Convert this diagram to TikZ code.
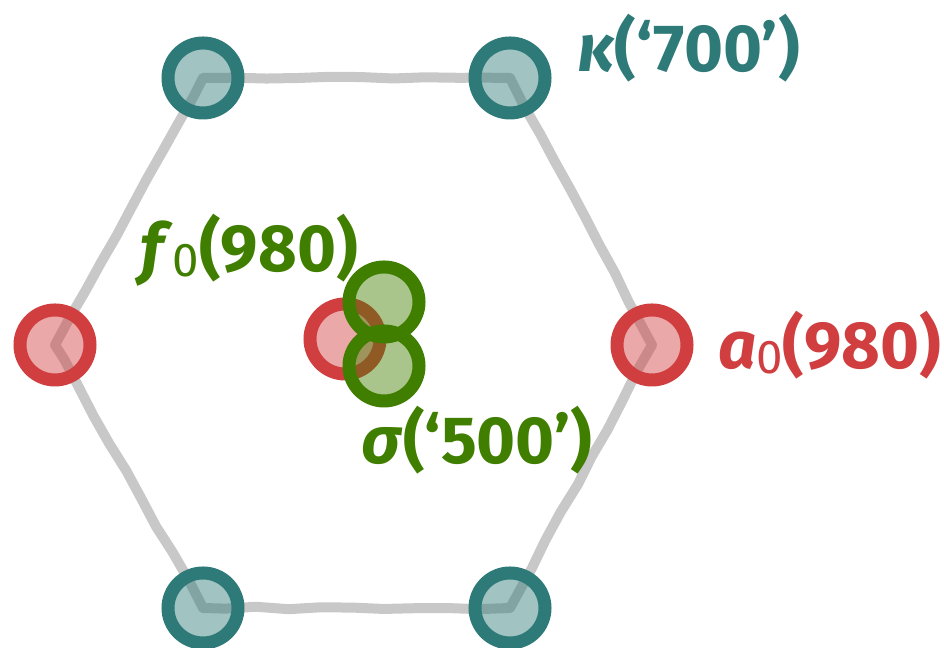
\documentclass[tikz,border=0pt]{standalone}
\usepackage{fontspec}
\setmainfont{Fira Sans}
\usetikzlibrary{positioning,backgrounds,decorations.pathmorphing}
\definecolor{kteal}{RGB}{46,122,120}
\definecolor{ared}{RGB}{208,62,64}
\definecolor{fgreen}{RGB}{64,126,0}
\definecolor{hexgray}{RGB}{200,200,200}
\newcommand{\lowidx}[1]{\raisebox{-1.5pt}{\fontsize{13.5}{13.5}\selectfont\mdseries #1}}
\tikzset{
  wobble/.style={decorate,decoration={random steps,segment length=9pt,amplitude=0.35pt}},
  meson/.style={circle,inner sep=0,minimum size=0.7cm,line width=0.13cm,draw=#1,fill=#1,fill opacity=0.45},
  lab/.style={text=#1,inner sep=0,font=\fontsize{19}{23}\selectfont\bfseries},
  edge/.style={hexgray,line width=0.1cm,line cap=round,wobble}
}

\begin{document}
\begin{tikzpicture}
\pgfmathsetseed{7}
\useasboundingbox(0,0)rectangle(9.44,6.48);
% octet around the hexagon
\node[meson=kteal](tl)at(2.03,5.70){};\node[meson=kteal](tr)at(5.10,5.70){};
\node[meson=kteal](bl)at(2.03,0.40){};\node[meson=kteal](br)at(5.10,0.40){};
\node[meson=ared](l)at(0.55,3.03){};\node[meson=ared](r)at(6.52,3.03){};
\begin{scope}[on background layer]
\foreach \a/\b in {tl/tr,tr/r,r/br,br/bl,bl/l,l/tl}
  \draw[edge](\a.center)--(\b.center);
\end{scope}
% middle: a0 with f0 and sigma on top
\node[meson=ared](c)at(3.45,3.09){};
\node[meson=fgreen](ft)at(3.84,3.46){};
\node[meson=fgreen](sb)at(3.84,2.82){};
% labels
\node[lab=kteal,anchor=west,right=0.25 of tr,yshift=3mm](kap){\textit{κ}(‘700’)};
\node[lab=ared,anchor=west,right=0.24 of r](azero){\textit{a}\lowidx{0}(980)};
\node[lab=fgreen](fzero)at(2.49,3.98){\textit{f}\lowidx{0}(980)};
\node[lab=fgreen](sig)at(4.77,2.08){\textit{σ}(‘500’)};
\end{tikzpicture}
\end{document}
